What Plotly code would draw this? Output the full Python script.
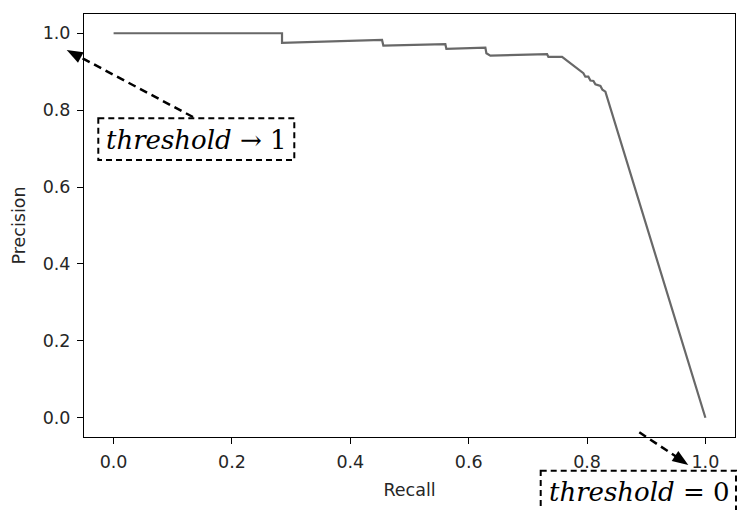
import plotly.graph_objects as go

# ---- data ----
recall = [0.0, 0.2846, 0.2846, 0.4536, 0.4558, 0.5606, 0.5623, 0.6282, 0.6299,
          0.6366, 0.7325, 0.7347, 0.7578, 0.7938, 0.7971, 0.8022, 0.8057, 0.8108,
          0.8141, 0.8226, 0.8260, 0.8310, 1.0]
precision = [1.0, 1.0, 0.975, 0.9826, 0.968, 0.9714, 0.9592, 0.9626, 0.948,
             0.9418, 0.9455, 0.9384, 0.9384, 0.896, 0.887, 0.887, 0.877, 0.876,
             0.867, 0.863, 0.853, 0.848, 0.0]
x_ticks = [0.0, 0.2, 0.4, 0.6, 0.8, 1.0]
y_ticks = [0.0, 0.2, 0.4, 0.6, 0.8, 1.0]
x_tick_labels = ["0.0", "0.2", "0.4", "0.6", "0.8", "1.0"]
y_tick_labels = ["0.0", "0.2", "0.4", "0.6", "0.8", "1.0"]
note_top = "<i>threshold</i> → 1"
note_bottom = "<i>threshold</i> = 0"

# ---- layout geometry ----
W, H = 737, 510
L, R, T, B = 84, 2, 14, 73
PW, PH = W - L - R, H - T - B


def px(x):
    return (x - L) / PW


def py(y):
    return (H - B - y) / PH


fig = go.Figure()
fig.add_trace(go.Scatter(x=recall, y=precision, mode="lines",
                         line=dict(color="#686868", width=2.2), showlegend=False))

axis_font = dict(family="DejaVu Sans", size=17.5, color="#262626")
common = dict(showgrid=False, zeroline=False, showline=True, mirror=True,
              linecolor="black", linewidth=1, ticks="outside", ticklen=6,
              tickwidth=1, tickcolor="black", tickfont=axis_font,
              ticklabelstandoff=3)

fig.update_xaxes(range=[-0.05, 1.05], tickvals=x_ticks, ticktext=x_tick_labels,
                 title=dict(text="Recall", font=axis_font, standoff=12), **common)
fig.update_yaxes(range=[-0.05, 1.05], tickvals=y_ticks, ticktext=y_tick_labels,
                 title=dict(text="Precision", font=axis_font, standoff=12), **common)

shapes = []
dash = "8px,5px"
# top-left arrow
shapes.append(dict(type="line", xref="paper", yref="paper",
                   x0=px(193), y0=py(117), x1=px(80), y1=py(57),
                   line=dict(color="black", width=2.5, dash=dash)))
shapes.append(dict(type="path", xref="paper", yref="paper",
                   path=f"M {px(66.7)} {py(50)} L {px(83.6)} {py(52.2)} L {px(78)} {py(62.8)} Z",
                   fillcolor="black", line=dict(width=0)))
shapes.append(dict(type="rect", xref="paper", yref="paper",
                   x0=px(98.3), y0=py(118.3), x1=px(294.3), y1=py(160),
                   line=dict(color="black", width=2, dash="6px,4px"),
                   fillcolor="rgba(0,0,0,0)"))
# bottom-right arrow
shapes.append(dict(type="line", xref="paper", yref="paper",
                   x0=px(639.3), y0=py(432.3), x1=px(676), y1=py(456.5),
                   line=dict(color="black", width=2.5, dash=dash)))
shapes.append(dict(type="path", xref="paper", yref="paper",
                   path=f"M {px(688.3)} {py(465)} L {px(671.7)} {py(461.1)} L {px(678.3)} {py(451.1)} Z",
                   fillcolor="black", line=dict(width=0)))
shapes.append(dict(type="rect", xref="paper", yref="paper",
                   x0=px(540.7), y0=py(470.7), x1=px(736), y1=py(513),
                   line=dict(color="black", width=2, dash="6px,4px"),
                   fillcolor="rgba(0,0,0,0)"))

note_font = dict(family="DejaVu Serif", size=26, color="black")
annotations = [
    dict(xref="paper", yref="paper", x=px(196), y=py(140), text=note_top,
         showarrow=False, xanchor="center", yanchor="middle", font=note_font),
    dict(xref="paper", yref="paper", x=px(639), y=py(492), text=note_bottom,
         showarrow=False, xanchor="center", yanchor="middle", font=note_font),
]

fig.update_layout(width=W, height=H, margin=dict(l=L, r=R, t=T, b=B, autoexpand=False),
                  plot_bgcolor="white", paper_bgcolor="white",
                  shapes=shapes, annotations=annotations)

fig.write_html("out.html")
